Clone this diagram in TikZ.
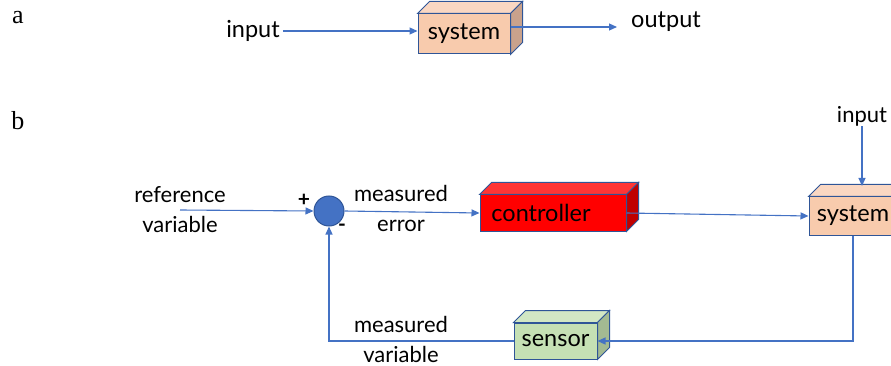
\documentclass[tikz,border=0pt]{standalone}
\usepackage{fontspec}
\setmainfont{Lato}
\newfontfamily\partfont{Liberation Serif}
\usetikzlibrary{arrows.meta}

\definecolor{flowblue}{HTML}{4472C4}
\definecolor{edgeblue}{HTML}{2F5597}
\definecolor{peach}{HTML}{F8CBAD}
\definecolor{peachtop}{HTML}{FAD7C2}
\definecolor{peachside}{HTML}{C9A28C}
\definecolor{ctrlred}{HTML}{FF0000}
\definecolor{ctrltop}{HTML}{FF3535}
\definecolor{ctrlside}{HTML}{C00000}
\definecolor{sage}{HTML}{C5E0B4}
\definecolor{sagetop}{HTML}{D2E7C4}
\definecolor{sageside}{HTML}{A3BA92}

\tikzset{
  flow/.style = {draw=flowblue, line width=1.1pt, -{Triangle[length=8pt,width=7pt]}},
  blockA/.style = {draw=edgeblue, line width=1pt, inner sep=0pt, font=\fontsize{23.5}{26}\selectfont},
  face/.style = {draw=edgeblue, line width=1pt},
  txt/.style = {inner sep=0pt, align=center, font=\fontsize{22}{30}\selectfont},
  sign/.style = {inner sep=0pt, font=\bfseries\fontsize{21}{22}\selectfont},
  tag/.style = {inner sep=0pt, font=\partfont\fontsize{26}{30}\selectfont},
}

% top and side faces of a block, 12 units deep
\newcommand{\faces}[3]{%
  \filldraw[face, fill=#2] (#1.north west) -- ++(12,-12) -- ([shift={(12,-12)}]#1.north east) -- (#1.north east) -- cycle;
  \filldraw[face, fill=#3] (#1.north east) -- ++(12,-12) -- ([shift={(12,-12)}]#1.south east) -- (#1.south east) -- cycle;
}

\begin{document}
\begin{tikzpicture}[x=1pt, y=-1pt]
  \clip (0,0) rectangle (891,366);

  % part a: open loop
  \node[tag] (tagA) at (18,18) {a};
  \node[txt, font=\fontsize{23.5}{28}\selectfont] (inA) at (253,31) {input};
  \node[blockA, fill=peach, minimum width=92pt, minimum height=40pt] (sysA) at (464,34) {system};
  \faces{sysA}{peachtop}{peachside}
  \node[txt, font=\fontsize{23.5}{28}\selectfont] (outA) at (666,22) {output};
  \coordinate (outEnd) at (617,27);
  \draw[flow, shorten <=3pt] (inA.east) -- (sysA.west |- inA.east);
  \draw[flow] ([yshift=7pt]sysA.east) -- (outEnd);

  % part b: closed loop
  \node[tag] (tagB) at (18,121) {b};
  \node[txt] (ref) at (180,210) {reference\\variable};
  \node[circle, fill=flowblue, draw=edgeblue, line width=1pt, minimum size=30pt, inner sep=0pt] (sum) at (329,211) {};
  \node[sign] (plus) at (304,200) {+};
  \node[sign] (minus) at (342,228) {-};
  \node[txt] (err) at (401,208) {measured\\error};
  \node[blockA, fill=ctrlred, minimum width=146pt, minimum height=36pt] (ctrl) at (553,213) {\hspace*{-24pt}controller};
  \faces{ctrl}{ctrltop}{ctrlside}
  \node[blockA, fill=peach, minimum width=88pt, minimum height=38pt] (sysB) at (853,216) {system};
  \faces{sysB}{peachtop}{peachside}
  \node[txt] (inB) at (862,116) {input};
  \coordinate (sysBtop) at (862,186);
  \node[blockA, fill=sage, minimum width=83pt, minimum height=36pt] (sensor) at (555.5,341) {sensor};
  \faces{sensor}{sagetop}{sageside}
  \node[txt] (meas) at (401,339) {measured\\variable};

  \draw[flow] (ref.center) -- (sum.west);
  \draw[flow] (sum.east) -- (ctrl.west);
  \draw[flow] (ctrl.east) -- (sysB.west);
  \draw[flow] (inB.south) -- (sysBtop);
  \draw[flow] (sysB.south) |- (sensor.east);
  \draw[flow] (sensor.west) -| (sum.south);
\end{tikzpicture}
\end{document}
